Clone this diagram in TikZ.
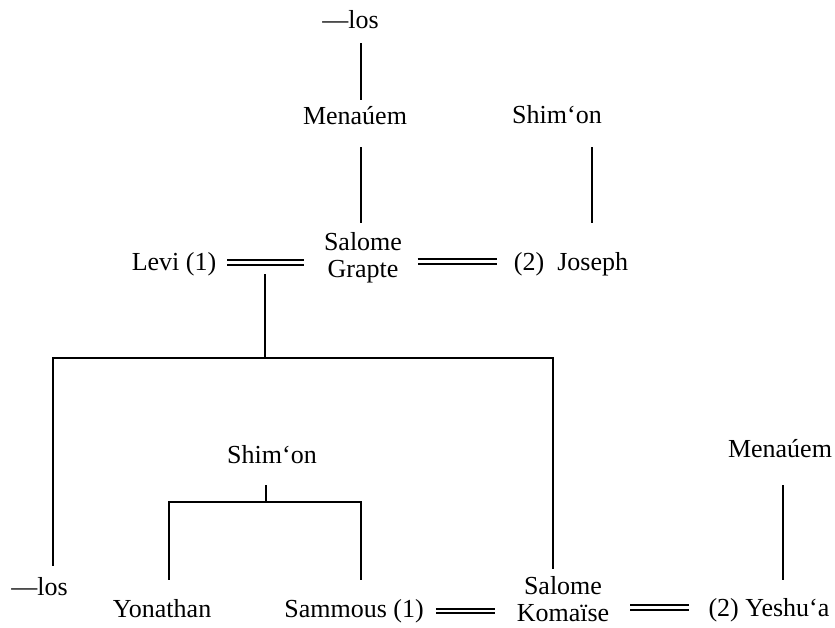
\documentclass[tikz,border=0pt]{standalone}
\usepackage{fontspec}
\setmainfont{Liberation Serif}
\usepackage{tikz}
\usetikzlibrary{positioning, calc}

\begin{document}
\begin{tikzpicture}[
		x=1pt, y=-1pt,
		person/.style = {inner sep=0pt, anchor=base, text height=18pt, text depth=6pt,
				font=\fontsize{26pt}{27pt}\selectfont},
		couple/.style = {inner sep=0pt, align=center,
				font=\fontsize{26pt}{27pt}\selectfont},
		line/.style = {draw, line width=2pt},
		marriage/.style = {draw, double, line width=2pt, double distance=2.6pt},
	]
	\useasboundingbox (0,0) rectangle (835,627);

	% Upper generations
	\node [person] (toplos) at (350.5,28) {—los};
	\node [person] (menahemA) at (355,124) {Menaúem};
	\node [person] (shimonA) at (557,123) {Shim‘on};

	% First couple
	\node [couple] (salomeA) at (363,257.5) {Salome\\Grapte};
	\node [person] (levi) at (174,270) {Levi (1)};
	\node [person] (joseph) at (571,270) {(2)\ \ Joseph};

	% Children of Levi and Salome
	\node [person] (botlos) at (39.5,595) {—los};
	\node [couple] (salomeB) at (563,599.5) {Salome\\Komaïse};

	% Shim'on and his sons
	\node [person] (shimonB) at (272,463) {Shim‘on};
	\node [person] (yonathan) at (162,617) {Yonathan};
	\node [person] (sammous) at (354,617) {Sammous (1)};

	% Second husband
	\node [person] (menahemB) at (780,457) {Menaúem};
	\node [person] (yeshua) at (769,616) {(2) Yeshu‘a};

	% Junctions
	\coordinate (unionA) at (265,274);
	\coordinate (forkA) at (265,358);
	\coordinate (forkB) at (266,502);

	% Descent lines
	\path [line] ([xshift=10.5pt,yshift=-9pt]toplos.south) -- ([xshift=6pt,yshift=6pt]menahemA.north);
	\path [line] ([xshift=6pt,yshift=-17pt]menahemA.south) -- ([xshift=-2pt,yshift=9pt]salomeA.north);
	\path [line] ([xshift=35pt,yshift=-18pt]shimonA.south) -- ([xshift=21pt,yshift=29pt]joseph.north);
	\path [line] (unionA) -- (forkA);
	\path [line] ([xshift=13.5pt,yshift=11pt]botlos.north) |- (forkA) -| ([xshift=-10pt,yshift=8pt]salomeB.north);
	\path [line] ([xshift=-6pt,yshift=-16pt]shimonB.south) -- (forkB);
	\path [line] ([xshift=7pt,yshift=19pt]yonathan.north) |- (forkB) -| ([xshift=7pt,yshift=19pt]sammous.north);
	\path [line] ([xshift=3pt,yshift=-22pt]menahemB.south) -- ([xshift=14pt,yshift=18pt]yeshua.north);

	% Marriages
	\path [marriage, shorten <=11pt, shorten >=20pt] ([yshift=1.5pt]levi.east) -- ([yshift=1.5pt]levi.east -| salomeA.west);
	\path [marriage, shorten <=15.5pt, shorten >=16.5pt] ([yshift=2.5pt]joseph.west -| salomeA.east) -- ([yshift=2.5pt]joseph.west);
	\path [marriage, shorten <=12pt, shorten >=22pt] (sammous.east) -- (sammous.east -| salomeB.west);
	\path [marriage, shorten <=21pt, shorten >=19pt] ([yshift=2.5pt]yeshua.west -| salomeB.east) -- ([yshift=2.5pt]yeshua.west);
\end{tikzpicture}
\end{document}
